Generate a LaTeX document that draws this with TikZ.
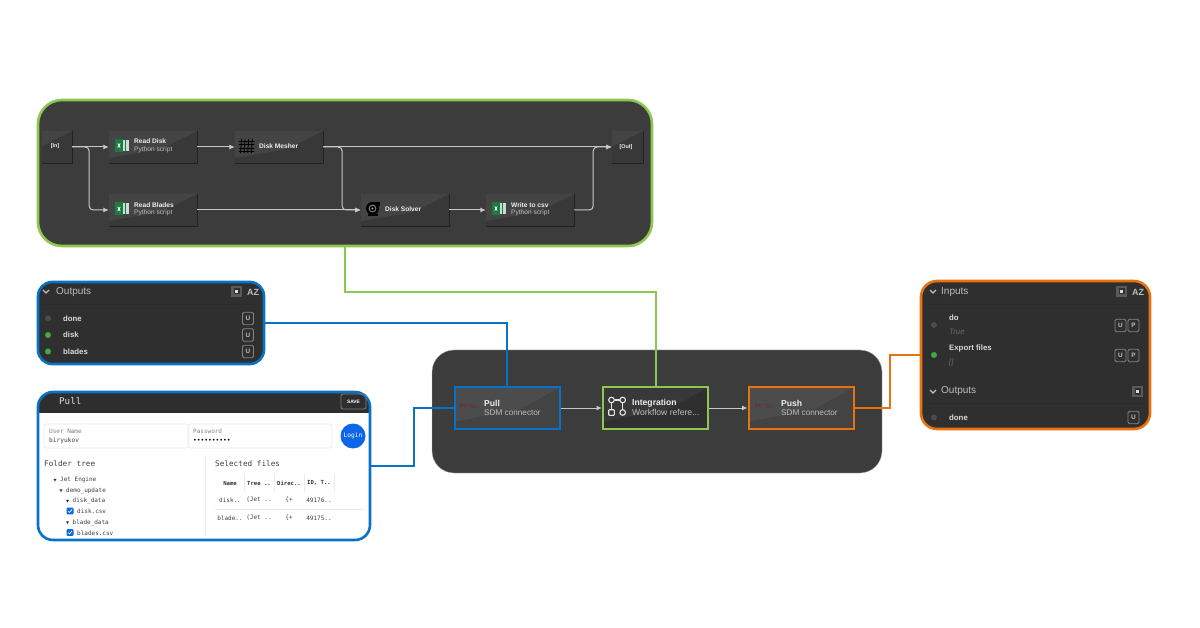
\documentclass[tikz,border=0pt]{standalone}
\usepackage{fontspec}
\setmainfont{Liberation Sans}
\newfontfamily\monof{DejaVu Sans Mono}
\usetikzlibrary{arrows.meta}
\definecolor{gr}{HTML}{8CC850}
\definecolor{bl}{HTML}{0A72C4}
\definecolor{og}{HTML}{E8720F}
\definecolor{pan}{HTML}{3C3C3C}
\definecolor{pand}{HTML}{2F2F2F}
\definecolor{cardlo}{HTML}{383838}
\definecolor{cardhi}{HTML}{444444}
\definecolor{wire}{HTML}{C8C8C8}
\definecolor{txtw}{HTML}{EDEDED}
\definecolor{txtg}{HTML}{BDBDBD}
\definecolor{xlg}{HTML}{1D7A45}
\definecolor{lnk}{HTML}{0D66E8}
\definecolor{mut}{HTML}{6A6A6A}
\definecolor{pdt}{HTML}{6B2C30}
\definecolor{pullc}{HTML}{434343}
\definecolor{pullh}{HTML}{4C4C4C}
\tikzset{
  panel/.style={draw=#1,line width=2.6pt,inner sep=0pt},
  card/.style={inner sep=0pt,fill=cardlo,
    path picture={\fill[cardhi] (path picture bounding box.north west) -- (path picture bounding box.north east) -- ([xshift=-36pt,yshift=-18pt]path picture bounding box.north east) -- ([yshift=-27pt]path picture bounding box.north west) -- cycle;}},
  wirea/.style={draw=wire,line width=1pt,-{Latex[length=5.5pt,width=5pt]}},
  wiren/.style={draw=wire,line width=1pt,rounded corners=4pt},
  link/.style={line width=2pt,draw=#1},
  tt/.style={font=\fontsize{6.6}{7}\selectfont\bfseries,text=txtw,inner sep=0pt,anchor=west},
  st/.style={font=\fontsize{6.6}{7}\selectfont,text=txtg,inner sep=0pt,anchor=west},
  lt/.style={font=\fontsize{8.6}{9}\selectfont\bfseries,text=txtw,inner sep=0pt,anchor=west},
  ls/.style={font=\fontsize{8.6}{9}\selectfont,text=txtg,inner sep=0pt,anchor=west},
  lsb/.style={font=\fontsize{8.2}{9}\selectfont,text=txtg,inner sep=0pt,anchor=west},
  head/.style={font=\fontsize{10}{11}\selectfont,text=txtg,inner sep=0pt,anchor=west},
  row/.style={font=\fontsize{7.8}{9}\selectfont\bfseries,text=txtw!92!black,inner sep=0pt,anchor=west},
  ub/.style={draw=txtg!70!black,rounded corners=1.5pt,line width=.8pt,minimum width=11pt,minimum height=12.5pt,inner sep=0pt,font=\fontsize{6.4}{7}\selectfont\bfseries,text=txtg},
  mono/.style={font=\monof\fontsize{#1}{9}\selectfont,inner sep=0pt,text=black!75},
  mono/.default=6.2,
  monoa/.style={mono=#1,anchor=west},
  monoa/.default=6,
}
\newcommand{\xlicon}[2]{%
  \fill[xlg] (#1,#2-6.5) rectangle (#1+8,#2+6.5);
  \fill[white!75!xlg] (#1+8,#2-5.5) rectangle (#1+13.5,#2+5.5);
  \draw[xlg,line width=.5pt] (#1+10.7,#2-5.5) -- (#1+10.7,#2+5.5);
  \draw[white,line width=.8pt] (#1+2.8,#2-2) -- (#1+5.2,#2+2) (#1+5.2,#2-2) -- (#1+2.8,#2+2);
}
\begin{document}
\begin{tikzpicture}[x=1pt,y=-1pt]
\useasboundingbox (0,0) rectangle (1200,628);
\fill[white] (0,0) rectangle (1200,628);

% main flow panel
\node[fill=pan,draw=black!25,line width=.3pt,rounded corners=22pt,minimum width=450pt,minimum height=123pt,inner sep=0pt] (mainpanel) at (657,411.5) {};

% workflow panel
\node[panel=gr,fill=pan,rounded corners=24pt,minimum width=614pt,minimum height=146pt] (workflow) at (345,173) {};

% workflow cards
\node[card,minimum width=30pt,minimum height=32pt] (innode) at (57,147) {};
\node[card,minimum width=88pt,minimum height=32pt] (readdisk) at (153,147) {};
\node[card,minimum width=88pt,minimum height=32pt] (mesher) at (279,147) {};
\node[card,minimum width=88pt,minimum height=32pt] (readblades) at (153,210) {};
\node[card,minimum width=88pt,minimum height=32pt] (solver) at (405,210) {};
\node[card,minimum width=88pt,minimum height=32pt] (writecsv) at (530,210) {};
\node[card,minimum width=31pt,minimum height=32pt] (outnode) at (627.5,147) {};
\foreach \n in {innode,readdisk,mesher,readblades,solver,writecsv,outnode}{
  \draw[black!45!pan,line width=1pt] ([yshift=-.4pt]\n.south west) -- ([yshift=-.4pt]\n.south east) -- ([yshift=-.4pt]\n.north east);
}
\node[inner sep=0pt,font=\fontsize{5.4}{6}\selectfont\bfseries,text=txtw] (inlab) at (55,146.5) {[In]};
\node[inner sep=0pt,font=\fontsize{5.4}{6}\selectfont\bfseries,text=txtw] (outlab) at (626,147) {[Out]};
\xlicon{115}{145.5}
\node[tt] (t1) at (134,141.5) {Read Disk};
\node[st] (s1) at (134,149.5) {Python script};
\xlicon{115}{209}
\node[tt] (t2) at (134,205.5) {Read Blades};
\node[st] (s2) at (134,213) {Python script};
\foreach \k in {0,1,2,3}{
  \draw[black,line width=.8pt,line cap=round] (241.5+\k*3.6,139) -- (240.5+\k*3.6,153);
  \draw[black,line width=.8pt,line cap=round] (239,141+\k*3.6) -- (254,141+\k*3.6);
}
\node[tt] (t3) at (259,146) {Disk Mesher};
\fill[black] (372.5,208.5) circle (6.5pt);
\fill[black] (368,214) rectangle (378,216.5);
\fill[black] (372,202) rectangle (380,206);
\draw[gray,line width=1pt] (372.5,208.5) circle (3.4pt);
\fill[black!40] (372.5,208.5) circle (1.2pt);
\node[tt] (t4) at (385,209.5) {Disk Solver};
\xlicon{492}{208.5}
\node[tt] (t5) at (511,205.5) {Write to csv};
\node[st] (s5) at (511,213) {Python script};

% workflow wires
\draw[wirea] (innode.east) -- (readdisk.west);
\draw[wiren,-{Latex[length=5.5pt,width=5pt]}] (innode.east) -- ++(17,0) |- (readblades.west);
\draw[wirea] (readdisk.east) -- (mesher.west);
\draw[wirea] (mesher.east) -- (outnode.west |- mesher.east);
\draw[wiren,-{Latex[length=5.5pt,width=5pt]}] (mesher.east) -- ++(19,0) |- (solver.west);
\draw[wirea] (readblades.east) -- (solver.west);
\draw[wirea] (solver.east) -- (writecsv.west);
\draw[wiren,-{Latex[length=5.5pt,width=5pt]}] (writecsv.east) -- ++(19,0) |- (outnode.west);

% outputs panel (left)
\node[panel=bl,fill=pand,rounded corners=14pt,minimum width=226pt,minimum height=82pt] (outputs) at (151,323) {};
\draw[txtg,line width=1.2pt] (43,290) -- (46,293) -- (49,290);
\node[head] (oh) at (56,292.5) {Outputs};
\draw[black!8!pand,line width=.5pt] (42,304) -- (259,304);
\fill[gray!70!black] (231,286) rectangle (242,297);
\fill[pand] (233.5,288.5) rectangle (239.5,294.5);
\fill[white!85!black] (234.8,289.8) rectangle (238.2,293.2);
\node[inner sep=0pt,font=\fontsize{9}{10}\selectfont\bfseries,text=txtg] (oaz) at (253,292) {AZ};
\fill[mut!70!black] (48,318.5) circle (3pt);
\fill[green!55!black!75!white] (48,335) circle (3pt);
\fill[green!55!black!75!white] (48,351.5) circle (3pt);
\node[row] (o1) at (63,318.5) {done};
\node[row] (o2) at (63,335) {disk};
\node[row] (o3) at (63,351.5) {blades};
\node[ub] (u1) at (248,318.5) {U};
\node[ub] (u2) at (248,335) {U};
\node[ub] (u3) at (248,351.5) {U};

% pull panel
\node[fill=white,rounded corners=15pt,minimum width=332pt,minimum height=148pt,inner sep=0pt] (pullbg) at (204,466) {};
\begin{scope}
\clip[rounded corners=15pt] (38,392) rectangle (370,540);
\fill[black!82] (38,392) rectangle (370,413);
\end{scope}
\node[panel=bl,rounded corners=15pt,minimum width=332pt,minimum height=148pt] (pullpanel) at (204,466) {};
\node[mono=9.2,anchor=west,text=white!88!black] (ph) at (59,401.5) {Pull};
\node[draw=gray,rounded corners=2pt,line width=.8pt,minimum width=25pt,minimum height=15pt,inner sep=0pt,font=\fontsize{4.8}{5}\selectfont\bfseries,text=white] (save) at (353.5,401.5) {SAVE};
\node[draw=black!8,rounded corners=2pt,line width=.7pt,minimum width=144pt,minimum height=24pt,inner sep=0pt] (userf) at (116,436) {};
\node[draw=black!8,rounded corners=2pt,line width=.7pt,minimum width=143pt,minimum height=24pt,inner sep=0pt] (passf) at (260.5,436) {};
\node[monoa=6,text=gray] (ul) at (49,431.5) {User Name};
\node[monoa=6.2] (uv) at (49,440.5) {biryukov};
\node[monoa=6,text=gray] (pl) at (193,431.5) {Password};
\node[monoa=6.2,text=black] (pv) at (193,440.5) {\textbullet\textbullet\textbullet\textbullet\textbullet\textbullet\textbullet\textbullet\textbullet\textbullet};
\node[circle,fill=lnk,minimum size=25pt,inner sep=0pt,mono=6.2,text=white] (login) at (353,436) {Login};
\node[monoa=7.7] (ft) at (44,464) {Folder tree};
\draw[black!8,line width=.8pt] (205,457) -- (205,536);
\node[monoa=7.7] (sf) at (215,464) {Selected files};
\node[monoa=6] (j0) at (60,480) {Jet Engine};
\node[monoa=6] (j1) at (66,490.5) {demo\_update};
\node[monoa=6] (j2) at (72.5,501) {disk\_data};
\node[monoa=6] (j3) at (77,511) {disk.csv};
\node[monoa=6] (j4) at (72.5,522.5) {blade\_data};
\node[monoa=6] (j5) at (77,533) {blades.csv};
\foreach \px/\py in {55/480,61/490.5,67.5/501,67.5/522.5}{
  \fill[black!80] (\px-1.6,\py-1.2) -- (\px+1.6,\py-1.2) -- (\px,\py+1.5) -- cycle;
}
\foreach \py in {511,532.5}{
  \fill[lnk,rounded corners=1pt] (66.5,\py-3.4) rectangle (73.5,\py+3.4);
  \draw[white,line width=.7pt] (68,\py) -- (69.5,\py+1.5) -- (72,\py-1.6);
}
\foreach \hx/\hl in {230/Name,259/Tree ..,289/Direc..,319/{ID, T..}}{
  \node[inner sep=0pt,text=black!80,font=\monof\bfseries\fontsize{5.6}{6}\selectfont] at (\hx,483) {\hl};
}
\foreach \sx in {244,274,304,334}{\draw[black!8,line width=.6pt] (\sx,474) -- (\sx,492);}
\draw[black!8,line width=.6pt] (215,509) -- (364,509);
\foreach \hx/\hl in {230/disk..,259/{(Jet ..},289/{\{+},319/49176..}{
  \node[mono=6] at (\hx,500) {\hl};
}
\foreach \hx/\hl in {230/blade..,259/{(Jet ..},289/{\{+},319/49175..}{
  \node[mono=6] at (\hx,518) {\hl};
}

% flow cards
\tikzset{flowcard/.style={inner sep=0pt,minimum width=105pt,minimum height=41pt,line width=2pt,fill=pullc,
  path picture={\fill[pullh] (path picture bounding box.north west) -- (path picture bounding box.north east) -- ([xshift=-40pt,yshift=-22pt]path picture bounding box.north east) -- ([yshift=-34pt]path picture bounding box.north west) -- cycle;}},
  darkcard/.style={inner sep=0pt,minimum width=105pt,minimum height=41pt,line width=2pt,fill=pand,
  path picture={\fill[cardlo] (path picture bounding box.north west) -- (path picture bounding box.north east) -- ([xshift=-40pt,yshift=-22pt]path picture bounding box.north east) -- ([yshift=-34pt]path picture bounding box.north west) -- cycle;}}}
\node[flowcard,draw=bl] (pull) at (507,408) {};
\node[darkcard,draw=gr] (integ) at (655.5,408) {};
\node[flowcard,draw=og] (push) at (801,408) {};
\node[inner sep=0pt,font=\fontsize{6}{7}\selectfont,text=pdt] (pd1) at (468.5,406.5) {PDTec};
\node[inner sep=0pt,font=\fontsize{6}{7}\selectfont,text=pdt] (pd2) at (764,406.5) {PDTec};
\node[lt] (pt) at (484,403) {Pull};
\node[lsb] (ps) at (484,412.5) {SDM connector};
\node[lt] (it) at (632,403) {Integration};
\node[ls] (is) at (632,412.5) {Workflow refere...};
\node[lt] (ut) at (781,403) {Push};
\node[lsb] (us) at (781,412.5) {SDM connector};
\draw[white!90!black,line width=1.1pt] (614.5,400) -- (620,400) (611.5,403) -- (611.5,409.5) (622.7,403) -- (622.7,409.5);
\foreach \cx/\cy in {611.5/400,622.7/400,622.7/412.5}{\draw[white!90!black,line width=1.1pt] (\cx,\cy) circle (2.8pt);}
\draw[white!90!black,line width=1.1pt,rounded corners=.8pt] (608.7,409.7) rectangle (614.3,415.3);
\draw[wirea] (pull.east) -- (integ.west);
\draw[wirea] (integ.east) -- (push.west);

% inputs panel
\node[panel=og,fill=pand,rounded corners=16pt,minimum width=229pt,minimum height=148pt] (inputs) at (1035.5,355) {};
\draw[txtg,line width=1.2pt] (930,290) -- (933,293) -- (936,290);
\node[head] (ih) at (941,292.5) {Inputs};
\draw[black!8!pand,line width=.5pt] (925,304) -- (1146,304);
\fill[gray!70!black] (1116,286) rectangle (1127,297);
\fill[pand] (1118.5,288.5) rectangle (1124.5,294.5);
\fill[white!85!black] (1119.8,289.8) rectangle (1123.2,293.2);
\node[inner sep=0pt,font=\fontsize{9}{10}\selectfont\bfseries,text=txtg] (iaz) at (1138,292) {AZ};
\fill[mut!70!black] (934,325) circle (3pt);
\fill[green!55!black!75!white] (934,355) circle (3pt);
\node[row] (i1) at (949,318) {do};
\node[row,font=\fontsize{7.8}{9}\selectfont\itshape,text=mut] (i1v) at (949,332) {True};
\node[row] (i2) at (949,348.5) {Export files};
\node[row,font=\fontsize{7.8}{9}\selectfont\itshape,text=mut] (i2v) at (949,362.5) {[]};
\node[ub] (iu1) at (1120.5,325.5) {U};
\node[ub] (ip1) at (1133.5,325.5) {P};
\node[ub] (iu2) at (1120.5,355.5) {U};
\node[ub] (ip2) at (1133.5,355.5) {P};
\draw[txtg,line width=1.2pt] (930,390) -- (933,393) -- (936,390);
\node[head] (ih2) at (941,391.5) {Outputs};
\draw[black!8!pand,line width=.5pt] (925,403) -- (1146,403);
\fill[gray!70!black] (1132,386) rectangle (1143,397);
\fill[pand] (1134.5,388.5) rectangle (1140.5,394.5);
\fill[white!85!black] (1135.8,389.8) rectangle (1139.2,393.2);
\fill[mut!70!black] (934,417.5) circle (3pt);
\node[row] (i3) at (949,417.5) {done};
\node[ub] (iu3) at (1133.5,417.5) {U};

% connectors between panels
\draw[link=bl] (outputs.east) -| (pull.north);
\draw[link=bl] (pullpanel.east) -- ++(43,0) |- (pull.west);
\draw[link=gr] (workflow.south) -- ++(0,45) -| (integ.north);
\draw[link=og] (push.east) -- ++(35,0) |- (inputs.west);
\end{tikzpicture}
\end{document}
